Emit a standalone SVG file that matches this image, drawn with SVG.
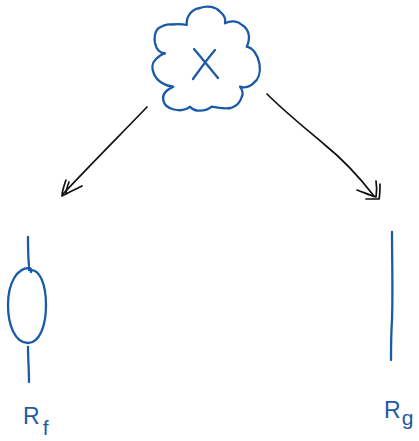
<svg xmlns="http://www.w3.org/2000/svg" width="419" height="441" viewBox="0 0 419 441">
<style>
.ink{fill:none;stroke:#1b5aa6;stroke-width:2.3;stroke-linecap:round;stroke-linejoin:round}
.arr{fill:none;stroke:#111;stroke-width:1.7;stroke-linecap:round;stroke-linejoin:round}
.lbl{fill:#1b5aa6;font-family:"Liberation Sans",Arial,sans-serif;font-size:23px}
.sub{font-size:21px}
</style>
<rect width="419" height="441" fill="#fff"/>
<g id="x">
<path class="ink" d="M186.7,25 C186,16 192,9 200,8 C207,5 216,7 220,11.7 C224,15 226,19 225,23.3 C231,20 238,21 242,25 C249,29 251,38 246.7,46.7 C253,48 258,55 259.5,64 C261,73 258,80 253.3,83.3 C249,87 244,88 240,86.7 C243,91 243,95 241.7,97 C240,103 237,106 231,108 C226,109 218,108 211.7,106.7 C208,110 203,111 197,110.5 C193,110 191,108 190,106.7 C186,110 180,111 174,109.5 C168,108 164,105 163.3,100 C162,95 166,90 173.3,86.7 C165,86 157,81 154,74 C151,67 152,63 156,59 C159,56 162,54 165,53.3 C159,53 156,48 155,43 C154,37 155,32 158,28.5 C162,26 166,24 171,24.5 C177,24 183,24 186.7,25 Z"/>
<path class="ink" d="M194,49 C200,56 209,67 218,78 M215,50 C208,58 201,68 193,79"/>
</g>
<g id="connectors">
<path class="arr" d="M147,107 C125,130 95,160 63,194"/>
<path class="arr" d="M66,180 C64,186 62,191 62,196 C69,192 76,189 82,186"/>
<path class="arr" d="M69,182 C67,187 66,190 66,194"/>
<path class="arr" d="M267,94 C285,112 305,128 325,145 C345,161 360,178 374,196"/>
<path class="arr" d="M376,181 C377,187 377,192 376,197 C369,195 363,192 357,190"/>
<path class="arr" d="M380,184 C380,190 380,195 379,199 C374,199 370,199 366,199"/>
</g>
<g id="Rf">
<path class="ink" d="M28,237 C28,247 28,256 29,266"/>
<path class="ink" d="M29,270 C40,268 46,285 46,305 C46,327 39,343 28,343 C15,343 8,325 8,305 C8,283 17,268 29,268 C31,268 32,270 31,272"/>
<path class="ink" d="M28,347 C28,358 29,370 29,382"/>
<text class="lbl" x="23" y="424">R<tspan class="sub" dx="3" dy="11">f</tspan></text>
</g>
<g id="Rg">
<path class="ink" d="M392,232 C392,260 393,290 392,320 C391,335 391,348 391,360"/>
<text class="lbl" x="384" y="418">R<tspan class="sub" dx="1" dy="7">g</tspan></text>
</g>
</svg>
